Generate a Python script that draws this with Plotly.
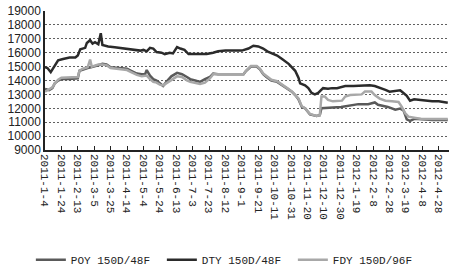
import plotly.graph_objects as go

# ---- data ----
dty_dates = ["2011-01-04","2011-01-07","2011-01-11","2011-01-14","2011-01-16","2011-01-20","2011-01-26",
             "2011-02-03","2011-02-10","2011-02-13","2011-02-16","2011-02-22","2011-02-24","2011-02-28",
             "2011-03-03","2011-03-06","2011-03-10","2011-03-13","2011-03-15","2011-03-22","2011-03-30",
             "2011-04-14","2011-04-19","2011-04-26","2011-04-30","2011-05-04","2011-05-08","2011-05-12",
             "2011-05-16","2011-05-20","2011-05-26","2011-05-30","2011-06-05","2011-06-09","2011-06-14",
             "2011-06-18","2011-06-23","2011-06-28","2011-07-13","2011-07-20","2011-07-28","2011-08-03",
             "2011-08-12","2011-08-22","2011-09-01","2011-09-09","2011-09-15","2011-09-21","2011-09-27",
             "2011-10-02","2011-10-07","2011-10-14","2011-10-20","2011-10-24","2011-10-28","2011-11-01",
             "2011-11-05","2011-11-09","2011-11-11","2011-11-17","2011-11-21","2011-11-25","2011-11-29",
             "2011-12-03","2011-12-09","2011-12-15","2011-12-20","2011-12-26","2012-01-05","2012-01-15",
             "2012-01-25","2012-02-04","2012-02-10","2012-02-18","2012-02-23","2012-02-28","2012-03-07",
             "2012-03-12","2012-03-16","2012-03-20","2012-03-24","2012-03-29","2012-04-06","2012-04-13",
             "2012-04-20","2012-04-28","2012-05-05","2012-05-09"]
dty_values = [14950,14900,14600,14900,15100,15450,15550,
              15650,15650,15800,16250,16350,16700,16900,
              16650,16750,16600,17400,16550,16450,16400,
              16300,16250,16200,16150,16200,16100,16350,
              16300,16050,16000,15900,16000,15950,16400,
              16300,16200,15900,15900,15900,16000,16100,
              16150,16150,16150,16300,16500,16450,16300,
              16100,15950,15800,15550,15400,15200,14950,
              14700,14200,13800,13650,13450,13100,13000,
              13100,13450,13400,13450,13450,13600,13600,
              13650,13650,13600,13450,13320,13200,13250,
              13300,13100,12900,12550,12650,12600,12550,
              12500,12500,12450,12400]

poy_dates = ["2011-01-04","2011-01-09","2011-01-13","2011-01-16","2011-01-20","2011-01-24","2011-02-03",
             "2011-02-13","2011-02-15","2011-02-19","2011-02-25","2011-03-01","2011-03-05","2011-03-10",
             "2011-03-15","2011-03-20","2011-03-25","2011-04-04","2011-04-14","2011-04-19","2011-04-26",
             "2011-05-02","2011-05-06","2011-05-08","2011-05-12","2011-05-16","2011-05-20","2011-05-24",
             "2011-05-28","2011-06-01","2011-06-07","2011-06-14","2011-06-20","2011-06-26","2011-06-30",
             "2011-07-06","2011-07-12","2011-07-18","2011-07-24","2011-07-28","2011-08-03","2011-09-03",
             "2011-09-06","2011-09-12","2011-09-19","2011-09-23","2011-09-27","2011-10-01","2011-10-07",
             "2011-10-14","2011-10-18","2011-10-22","2011-10-28","2011-11-01","2011-11-05","2011-11-09",
             "2011-11-13","2011-11-17","2011-11-23","2011-12-01","2011-12-05","2011-12-07","2011-12-31",
             "2012-01-12","2012-01-21","2012-02-02","2012-02-10","2012-02-14","2012-02-18","2012-02-26",
             "2012-03-06","2012-03-12","2012-03-16","2012-03-20","2012-03-24","2012-03-30","2012-04-03",
             "2012-04-20","2012-05-09"]
poy_values = [13400,13300,13450,13800,14000,14100,14100,
              14150,14700,14800,14900,14950,15000,15100,
              15200,15150,14950,14900,14850,14700,14500,
              14450,14450,14750,14350,14100,14000,13800,
              13600,13900,14300,14550,14450,14250,14100,
              14000,13900,14100,14250,14500,14450,14450,
              14680,15000,15000,14800,14450,14250,14000,
              13900,13750,13550,13340,13200,12950,12650,
              12100,12000,11560,11450,11500,12000,12100,
              12200,12300,12300,12420,12250,12200,12100,
              11900,11980,11850,11200,11100,11250,11230,
              11150,11150]

fdy_dates = ["2011-01-04","2011-01-09","2011-01-13","2011-01-16","2011-01-20","2011-01-24","2011-02-03",
             "2011-02-13","2011-02-15","2011-02-19","2011-02-25","2011-02-28","2011-03-02","2011-03-05",
             "2011-03-10","2011-03-15","2011-03-20","2011-03-25","2011-04-04","2011-04-14","2011-04-19",
             "2011-04-26","2011-05-02","2011-05-08","2011-05-12","2011-05-16","2011-05-20","2011-05-24",
             "2011-05-28","2011-06-01","2011-06-07","2011-06-14","2011-06-20","2011-06-26","2011-06-30",
             "2011-07-06","2011-07-12","2011-07-18","2011-07-24","2011-07-28","2011-08-03","2011-09-03",
             "2011-09-06","2011-09-12","2011-09-19","2011-09-23","2011-09-27","2011-10-01","2011-10-07",
             "2011-10-14","2011-10-18","2011-10-22","2011-10-28","2011-11-01","2011-11-05","2011-11-09",
             "2011-11-13","2011-11-17","2011-11-23","2011-12-01","2011-12-05","2011-12-07","2011-12-11",
             "2011-12-15","2011-12-21","2012-01-01","2012-01-05","2012-01-11","2012-01-25","2012-01-29",
             "2012-02-06","2012-02-10","2012-02-16","2012-02-23","2012-03-02","2012-03-10","2012-03-14",
             "2012-03-18","2012-03-22","2012-03-30","2012-04-07","2012-05-09"]
fdy_values = [13200,13350,13500,13800,14050,14200,14250,
              14250,14700,14850,14950,15500,15000,15050,
              15150,15150,15100,14900,14850,14750,14600,
              14400,14300,14350,14100,13900,13850,13700,
              13650,13800,14050,14300,14250,14000,13900,
              13800,13750,13850,14150,14450,14450,14450,
              14700,15050,15050,14850,14500,14300,14050,
              13950,13800,13600,13380,13200,12950,12700,
              12150,12000,11600,11450,11500,12850,12850,
              12600,12500,12550,12850,12950,13000,13200,
              13200,12950,12700,12550,12500,12450,12100,
              11650,11400,11300,11230,11230]

y_ticks = [9000, 10000, 11000, 12000, 13000, 14000, 15000, 16000, 17000, 18000, 19000]

series_names = ["POY 150D/48F", "DTY 150D/48F", "FDY 150D/96F"]
series_colors = ["#5a5a5a", "#2b2b2b", "#a8a8a8"]

fig = go.Figure()
for name, xs, ys, col in zip(series_names,
                             [poy_dates, dty_dates, fdy_dates],
                             [poy_values, dty_values, fdy_values],
                             series_colors):
    fig.add_trace(go.Scatter(x=xs, y=ys, mode="lines", name=name,
                             line=dict(color=col, width=2.5)))

fig.update_layout(
    template="none",
    width=454, height=279,
    margin=dict(l=45, r=5, t=11, b=120),
    paper_bgcolor="white", plot_bgcolor="white",
    showlegend=True,
    legend=dict(orientation="h", x=-0.035, xanchor="left", y=-0.79, yanchor="middle",
                font=dict(family="Liberation Mono", size=11, color="#222"),
                itemwidth=30, tracegroupgap=0, bgcolor="rgba(0,0,0,0)",
                entrywidth=86, entrywidthmode="pixels"),
    yaxis=dict(range=[9000, 19000], tickmode="array", tickvals=y_ticks,
               tickformat="d", showgrid=True, gridcolor="#606060", gridwidth=1.2,
               griddash="2px,2px", layer="below traces",
               showline=True, linecolor="#222", linewidth=1.5,
               ticks="", zeroline=False,
               tickfont=dict(family="Liberation Sans", size=12, color="#222")),
    xaxis=dict(type="date", range=["2011-01-04", "2012-05-10 12:00"],
               tickmode="linear", tick0="2011-01-04", dtick=20 * 86400000,
               tickformat="%Y-%-m-%-d", tickangle=90,
               showgrid=False, showline=True, linecolor="#222", linewidth=1.5,
               ticks="inside", ticklen=4, tickcolor="#222", zeroline=False,
               tickfont=dict(family="Liberation Mono", size=11, color="#222")),
)

fig.write_html("out.html")
